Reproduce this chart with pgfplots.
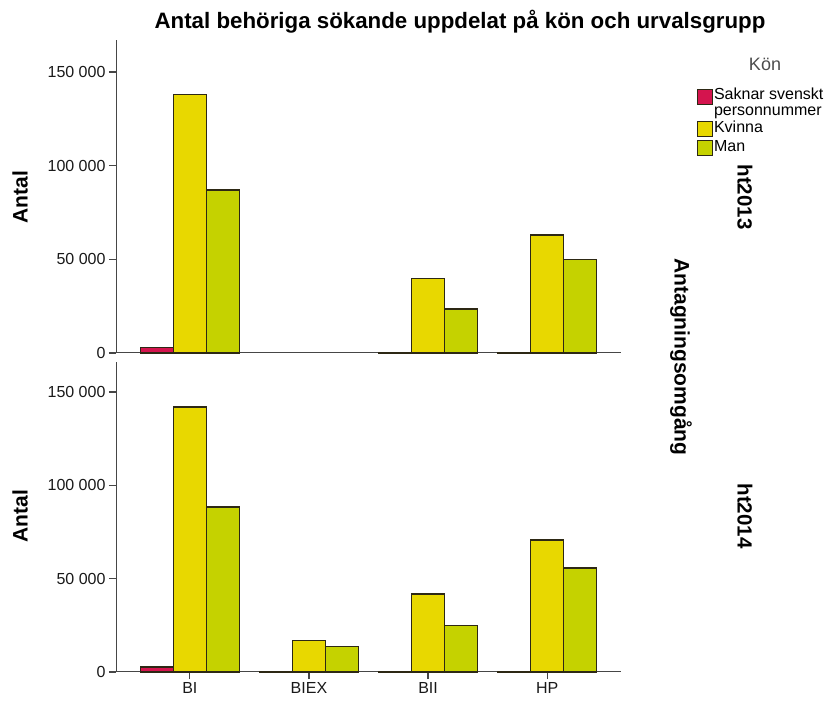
\documentclass[border=0pt]{standalone}
\usepackage{pgfplots}
\pgfplotsset{compat=1.18}
\usepackage{fontspec}
\setmainfont{Liberation Sans}

\definecolor{cRed}{RGB}{212,20,78}
\definecolor{cYel}{RGB}{232,216,0}
\definecolor{cGrn}{RGB}{197,210,0}
\definecolor{cEdge}{RGB}{45,40,20}
\definecolor{cAx}{RGB}{70,70,70}

\pgfplotsset{
  panel/.style={
    scale only axis, width=505pt,
    xmin=-0.62, xmax=3.62, ymin=0,
    axis x line*=bottom, axis y line*=left,
    axis line style={draw=cAx, line width=1pt, -},
    ytick={0,50000,100000,150000},
    yticklabel style={font=\fontsize{16}{18}\selectfont, text=black!90},
    yticklabels={0,50 000,100 000,150 000},
    scaled y ticks=false,
    major tick length=7pt,
    tick align=outside,
    every tick/.style={draw=cAx, line width=1.2pt},
    every axis plot/.append style={ybar, bar width=33pt, draw=cEdge, line width=1.1pt},
    clip=false,
  },
  sRed/.style={fill=cRed, bar shift=-33pt,
    legend image code/.code={\draw[##1] (0pt,-2.5pt) rectangle (15pt,12.5pt);}},
  sYel/.style={fill=cYel, bar shift=0pt},
  sGrn/.style={fill=cGrn, bar shift=33pt},
}

\begin{document}
\begin{tikzpicture}
\useasboundingbox (0,0) rectangle (830pt,701pt);

% top panel (ht2013)
\begin{axis}[panel, at={(116pt,348pt)}, anchor=south west,
  height=313pt, ymax=167100, xtick=\empty,
  legend style={at={(axis description cs:1.15,0.852)}, anchor=north west,
    draw=none, fill=none, font=\fontsize{16}{16.5}\selectfont,
    inner sep=0pt, row sep=2pt,
    nodes={inner sep=1pt, align=left}},
  legend cell align=left,
  legend image code/.code={\draw[#1] (0pt,-9pt) rectangle (15pt,6pt);},
]
\addplot[sRed] coordinates {(0,2700) (2,400) (3,400)};
\addplot[sYel] coordinates {(0,138200) (2,40000) (3,63000)};
\addplot[sGrn] coordinates {(0,87000) (2,23500) (3,50100)};
\legend{{Saknar svenskt\\personnummer},Kvinna,Man}
\end{axis}

% bottom panel (ht2014)
\begin{axis}[panel, at={(116pt,29pt)}, anchor=south west,
  height=310pt, ymax=166100,
  xtick={0,1,2,3}, xticklabels={BI,BIEX,BII,HP},
  xticklabel style={font=\fontsize{16}{18}\selectfont, text=black!90},
]
\addplot[sRed] coordinates {(0,2700) (1,150) (2,400) (3,400)};
\addplot[sYel] coordinates {(0,142000) (1,17100) (2,41800) (3,70700)};
\addplot[sGrn] coordinates {(0,88400) (1,13900) (2,24700) (3,55700)};
\end{axis}

\node[font=\fontsize{22.3}{25}\selectfont\bfseries] at (460pt,679pt) {Antal behöriga sökande uppdelat på kön och urvalsgrupp};
\node[font=\fontsize{21}{23}\selectfont\bfseries, rotate=90] at (20pt,504pt) {Antal};
\node[font=\fontsize{21}{23}\selectfont\bfseries, rotate=90] at (20pt,185pt) {Antal};
\node[font=\fontsize{20.5}{23}\selectfont\bfseries, rotate=-90] at (745pt,504pt) {ht2013};
\node[font=\fontsize{20.5}{23}\selectfont\bfseries, rotate=-90] at (745pt,185pt) {ht2014};
\node[font=\fontsize{21}{23}\selectfont\bfseries, rotate=-90] at (681pt,344pt) {Antagningsomgång};
\node[font=\fontsize{18}{20}\selectfont, text=black!70] at (765pt,637pt) {Kön};
\end{tikzpicture}
\end{document}
